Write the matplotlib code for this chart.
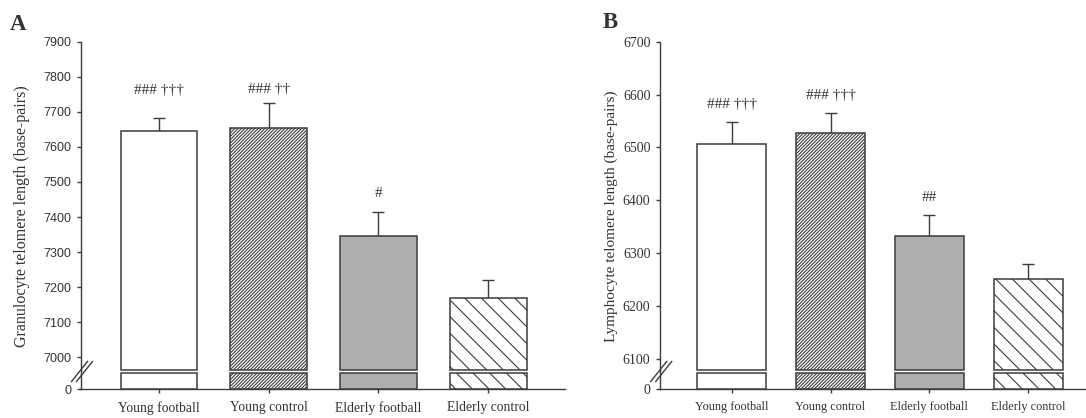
import numpy as np
import matplotlib
matplotlib.use("Agg")
import matplotlib.pyplot as plt
from matplotlib.lines import Line2D

# ---------------- data ----------------
categories = ["Young football", "Young control", "Elderly football", "Elderly control"]
gran_mean = [7646, 7655, 7345, 7169]
gran_sem = [35, 71, 69, 51]
gran_marks = ["### \u2020\u2020\u2020", "### \u2020\u2020", "#", ""]
lymph_mean = [6506, 6528, 6332, 6251]
lymph_sem = [42, 37, 40, 28]
lymph_marks = ["### \u2020\u2020\u2020", "### \u2020\u2020\u2020", "##", ""]
gran_ticks = [7000, 7100, 7200, 7300, 7400, 7500, 7600, 7700, 7800, 7900]
lymph_ticks = [6100, 6200, 6300, 6400, 6500, 6600, 6700]

# ---------------- style ----------------
W, H = 1086, 418
EDGE = "#3c3c3c"
TXT = "#333333"
plt.rcParams["hatch.color"] = EDGE
plt.rcParams["hatch.linewidth"] = 0.8
faces = ["white", "white", "#aeaeae", "white"]
hatches = [None, "/" * 10, "\\\\", None]
hatches[3] = "\\\\"

fig = plt.figure(figsize=(W / 100, H / 100), dpi=100)


def rect(left, right, top, bottom):
    return [left / W, 1 - bottom / H, (right - left) / W, (bottom - top) / H]


def panel(spine_x, right_x, y_top_val, y_bot_val, ticks, means, sems, marks,
          mark_off, tick_font, tick_size, xl_size, ylabel, ylabel_x, ylabel_size,
          letter, letter_x, letter_y, xlim):
    top_px, brk_px, base_px = 41.7, 370.0, 389.3
    up = fig.add_axes(rect(spine_x, right_x, top_px, brk_px))
    lo = fig.add_axes(rect(spine_x, right_x, brk_px, base_px))
    x = np.arange(len(categories))
    means = np.asarray(means, float)
    sems = np.asarray(sems, float)
    hs = [None, hatches[1], None, hatches[3]]

    # upper part
    up.set_xlim(*xlim)
    up.set_ylim(y_bot_val, y_top_val)
    up.bar(x, means - y_bot_val, bottom=y_bot_val, width=0.7, color=faces,
           edgecolor=EDGE, linewidth=1.1, clip_on=False, zorder=3)
    for i, b in enumerate(up.patches):
        if hs[i]:
            b.set_hatch(hs[i])
    up.errorbar(x, means, yerr=[np.zeros_like(sems), sems], fmt="none",
                ecolor=EDGE, elinewidth=1.0, capsize=4, capthick=1.0, zorder=2)
    for i, m in enumerate(marks):
        if m:
            up.annotate(m, (x[i], means[i] + sems[i]), xytext=(0, mark_off[i]),
                        textcoords="offset pixels", ha="center", va="center",
                        fontsize=11, family="Liberation Serif", color=TXT)
    up.set_yticks(ticks)
    up.set_xticks([])
    for s in ("top", "right", "bottom"):
        up.spines[s].set_visible(False)

    # lower stub
    STUB = 83
    lo.set_xlim(*xlim)
    lo.set_ylim(0, 100)
    lo.bar(x, np.minimum(means, STUB), width=0.7, color=faces, edgecolor=EDGE,
           linewidth=1.1, zorder=3)
    for i, b in enumerate(lo.patches):
        if hs[i]:
            b.set_hatch(hs[i])
    lo.set_yticks([0])
    lo.set_xticks(x)
    lo.set_xticklabels(categories, family="Liberation Serif", fontsize=xl_size,
                       color=TXT)
    for s in ("top", "right"):
        lo.spines[s].set_visible(False)

    for ax in (up, lo):
        for s in ("left", "bottom"):
            ax.spines[s].set_color(EDGE)
            ax.spines[s].set_linewidth(1.0)
        ax.tick_params(axis="y", direction="out", length=3.2, width=1.0,
                       color=EDGE, pad=3.5, labelcolor=TXT, labelsize=tick_size)
        ax.tick_params(axis="x", direction="out", length=3.0, width=1.0,
                       color=EDGE, pad=5.5)
        for lab in ax.get_yticklabels():
            lab.set_family(tick_font)
        ax.patch.set_alpha(0)

    # break marks "//"
    cx, cy = spine_x + 1.5, 371.5
    for dx in (-2.5, 2.5):
        x0, y0 = cx + dx - 8, cy + 10
        x1, y1 = cx + dx + 8, cy - 10
        fig.add_artist(Line2D([x0 / W, x1 / W], [1 - y0 / H, 1 - y1 / H],
                              color=EDGE, lw=1.0))

    fig.text(ylabel_x / W, 1 - 216 / H, ylabel, rotation=90, ha="center",
             va="center", family="Liberation Serif", fontsize=ylabel_size,
             color=TXT)
    fig.text(letter_x / W, 1 - letter_y / H, letter, ha="left", va="baseline",
             family="Liberation Serif", fontweight="bold", fontsize=16.5,
             color=TXT)


panel(80.5, 565, 7900, 6963.8, gran_ticks, gran_mean, gran_sem, gran_marks,
      [28, 13, 19, 0], "Liberation Sans", 9, 9.8,
      "Granulocyte telomere length (base-pairs)", 21.7, 11.5,
      "A", 10, 29.5, (-0.716, 3.70))

panel(659.7, 1097.3, 6700, 6079.2, lymph_ticks, lymph_mean, lymph_sem, lymph_marks,
      [18, 18, 18, 0], "Liberation Serif", 10, 8.8,
      "Lymphocyte telomere length (base-pairs)", 611.7, 11,
      "B", 603, 28.5, (-0.729, 3.70))

fig.savefig("out.png", dpi=100)
